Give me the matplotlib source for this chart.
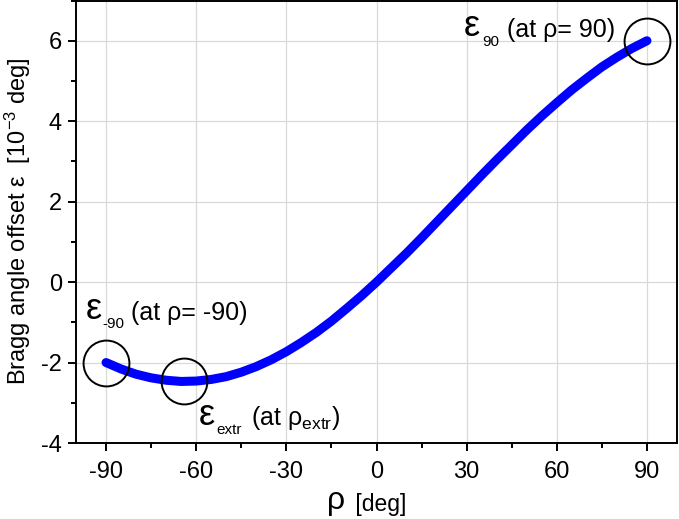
import matplotlib
matplotlib.use("Agg")
import matplotlib.pyplot as plt
from matplotlib.ticker import MultipleLocator

plt.rcParams['font.family'] = ['Liberation Sans', 'DejaVu Sans']
plt.rcParams['mathtext.fontset'] = 'custom'
plt.rcParams['mathtext.rm'] = 'Liberation Sans'
plt.rcParams['mathtext.it'] = 'Liberation Sans'
plt.rcParams['mathtext.sf'] = 'Liberation Sans'
plt.rcParams['axes.unicode_minus'] = False

# data
rho = [-90, -85, -80, -75, -70, -65, -60, -55, -50, -45, -40, -35, -30, -25, -20,
       -15, -10, -5, 0, 5, 10, 15, 20, 25, 30, 35, 40, 45, 50, 55, 60, 65, 70,
       75, 80, 85, 90]
eps = [-2.00, -2.16, -2.29, -2.38, -2.44, -2.47, -2.46, -2.42, -2.35, -2.24,
       -2.10, -1.93, -1.73, -1.50, -1.25, -0.97, -0.66, -0.34, 0.00, 0.36,
       0.72, 1.10, 1.49, 1.88, 2.27, 2.66, 3.04, 3.41, 3.78, 4.13, 4.46,
       4.78, 5.07, 5.35, 5.59, 5.81, 6.00]
marked_rho = [-90, -64, 90]
marked_eps = [-2.0, -2.47, 6.0]
xticks = [-90, -60, -30, 0, 30, 60, 90]
yticks = [-4, -2, 0, 2, 4, 6]

W, H = 679, 519
fig = plt.figure(figsize=(W / 100, H / 100), dpi=100)
ax = fig.add_axes([76 / W, 1 - 443 / H, (677 - 76) / W, 443 / H - 0.001])

ax.plot(rho, eps, color='#0000ff', lw=6.5, solid_capstyle='round', zorder=3)
ax.plot(marked_rho, marked_eps, ls='none', marker='o', ms=33, mfc='none',
        mec='black', mew=1.4, zorder=4, clip_on=False)

ax.set_xlim(-100, 100)
ax.set_ylim(-4, 7)
ax.set_xticks(xticks)
ax.set_yticks(yticks)
ax.xaxis.set_minor_locator(MultipleLocator(15))
ax.yaxis.set_minor_locator(MultipleLocator(1))
ax.grid(True, which='major', color='#d9d9d9', lw=0.9, zorder=0)
ax.tick_params(which='major', direction='out', length=6, width=1.4,
               labelsize=17, pad=4)
ax.tick_params(axis='x', which='major', pad=7)
ax.tick_params(which='minor', direction='out', length=3.5, width=1.4)
for s in ax.spines.values():
    s.set_linewidth(1.4)

ax.set_ylabel('Bragg angle offset ε  [10$^{-3}$ deg]', fontsize=17, labelpad=6)
fig.text(345 / W, 1 - 509 / H, 'ρ', fontsize=23, ha='right', va='baseline')
fig.text(349 / W, 1 - 511 / H, ' [deg]', fontsize=16.5, ha='left', va='baseline')


def ptext(x, y, s, size, **kw):
    fig.text(x / W, 1 - y / H, s, fontsize=size, va='baseline', **kw)


# annotation at -90
ptext(86, 319, 'ε', 26)
ptext(102, 328, '-90', 11)
ptext(131, 320, '(at ρ= -90)', 18)
# annotation at extremum
ptext(199, 425, 'ε', 26)
ptext(216, 434, 'extr', 11)
ptext(251, 425, '(at ρ$_{\\mathrm{extr}}$)', 18)
# annotation at 90
ptext(464, 36, 'ε', 26)
ptext(482, 46, '90', 11)
ptext(507, 37, '(at ρ= 90)', 18)

fig.savefig('out.png', dpi=100)
